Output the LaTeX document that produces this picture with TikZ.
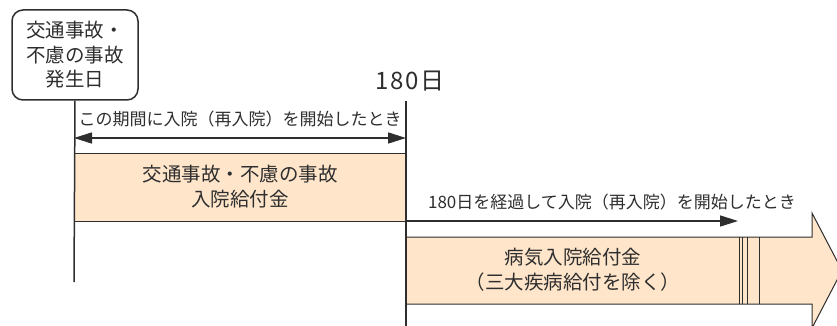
\documentclass[tikz,border=0pt]{standalone}
\usepackage{fontspec}
\setmainfont{Noto Sans CJK JP}
\usetikzlibrary{arrows.meta}
\definecolor{tinta}{HTML}{2E2E2E}
\definecolor{naranja}{HTML}{FFE6CB}

\begin{document}
\begin{tikzpicture}[x=1pt, y=-1pt, text=tinta,
    flecha/.style={draw=tinta, line width=1.5pt, -{Triangle[length=18pt, width=11pt]}},
    caja/.style={fill=naranja, draw=tinta, line width=1pt, inner sep=0pt, align=center, font=\fontsize{19.5}{25}\selectfont},
    rotulo/.style={inner sep=0pt, font=\fontsize{17}{20}\selectfont}]
            \useasboundingbox (0,0) rectangle (837,326);

            % Caja del inicio
            \node[draw=tinta, line width=1.5pt, rounded corners=11pt, minimum width=126pt, minimum height=90pt, inner sep=0pt, align=center, font=\fontsize{19.5}{24.5}\selectfont] (inicio) at (75,55) {交通事故・\\不慮の事故\\発生日};

            % Puntos
            \coordinate (izq fin) at (74,282);
            \coordinate (dia ini) at (406,101);
            \coordinate (dia fin) at (406,326);
            \coordinate (p1) at (74,138);
            \coordinate (p2) at (406,138);
            \coordinate (q1) at (406,221);
            \coordinate (q2) at (738,221);

            % Rectángulo naranja
            \node[caja, minimum width=332pt, minimum height=68pt] (accidente) at (240,187) {交通事故・不慮の事故\\入院給付金};

            % Flecha grande
            \fill[naranja] (406,237) -- (812,237) -- (812,213) -- (842,270.5) -- (812,328) -- (812,304) -- (406,304) -- cycle;
            \draw[tinta, line width=1pt] (406,237) -- (812,237) -- (812,213) -- (842,270.5) -- (812,328) -- (812,304) -- (406,304);
            \foreach \x in {739.5, 742.5, 747, 759.5}
                \draw[tinta, line width=0.9pt] (\x,237) -- (\x,304);
            \node[inner sep=0pt, align=center, font=\fontsize{19.5}{25}\selectfont] (enfermedad) at (573,270) {病気入院給付金\\（三大疾病給付を除く）};

            % Rectas
            \draw[tinta, line width=1.5pt] (inicio.south) -- (izq fin);
            \draw[tinta, line width=1.5pt] (dia ini) -- (dia fin);
            \node[inner sep=0pt, font=\fontsize{24}{26}\selectfont\addfontfeature{LetterSpace=6}] (dias) at (410,81) {180日};

            % Flechas
            \draw[flecha, {Triangle[length=18pt, width=11pt]}-{Triangle[length=18pt, width=11pt]}] (p1) -- (p2) node[rotulo, midway, above=10pt] (periodo) {この期間に入院（再入院）を開始したとき};
            \draw[flecha] (q1) -- (q2);
            \node[rotulo] (despues) at (612,202) {180日を経過して入院（再入院）を開始したとき};
        \end{tikzpicture}
\end{document}
